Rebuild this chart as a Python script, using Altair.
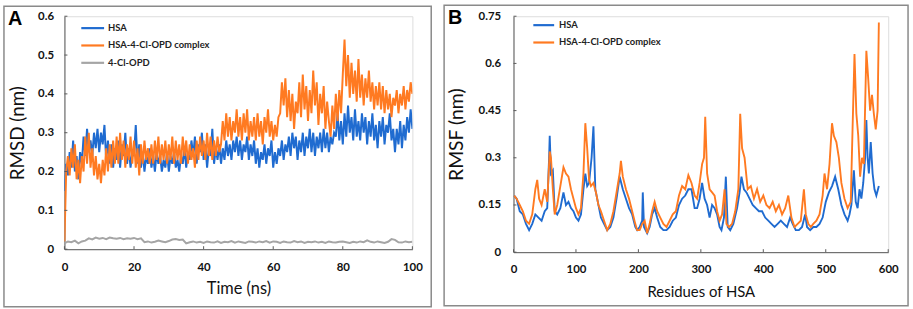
import altair as alt
import numpy as np
import pandas as pd

# ---------------- Panel A data (RMSD vs time) ----------------
hsa_rmsd = [
    0.15,0.22,0.19,0.25,0.21,0.28,0.2,0.24,0.18,0.25,
    0.22,0.29,0.24,0.31,0.25,0.28,0.24,0.3,0.26,0.31,
    0.25,0.3,0.27,0.32,0.23,0.28,0.22,0.27,0.21,0.26,
    0.23,0.28,0.21,0.27,0.24,0.3,0.22,0.26,0.21,0.25,
    0.24,0.32,0.22,0.27,0.21,0.25,0.2,0.24,0.22,0.26,
    0.21,0.24,0.2,0.25,0.22,0.24,0.2,0.23,0.21,0.25,
    0.2,0.24,0.22,0.25,0.21,0.23,0.2,0.24,0.22,0.26,
    0.21,0.25,0.23,0.28,0.24,0.29,0.22,0.27,0.25,0.3,
    0.23,0.27,0.21,0.26,0.24,0.31,0.22,0.26,0.23,0.27,
    0.22,0.26,0.23,0.28,0.24,0.27,0.23,0.28,0.25,0.29,
    0.24,0.28,0.23,0.27,0.25,0.29,0.23,0.27,0.24,0.28,
    0.22,0.26,0.21,0.25,0.23,0.27,0.22,0.26,0.24,0.28,
    0.21,0.25,0.22,0.26,0.24,0.28,0.23,0.27,0.25,0.29,
    0.24,0.3,0.26,0.29,0.23,0.28,0.25,0.3,0.24,0.29,
    0.26,0.31,0.25,0.3,0.24,0.29,0.26,0.3,0.25,0.31,
    0.26,0.3,0.25,0.29,0.27,0.3,0.29,0.35,0.28,0.33,
    0.27,0.35,0.29,0.37,0.3,0.34,0.28,0.36,0.29,0.33,
    0.28,0.35,0.3,0.34,0.27,0.33,0.29,0.35,0.28,0.32,
    0.26,0.33,0.29,0.34,0.27,0.32,0.3,0.35,0.28,0.31,
    0.25,0.31,0.27,0.33,0.26,0.32,0.28,0.34,0.3,0.36,
    0.31,
]
complex_rmsd = [
    0.02,0.2,0.24,0.19,0.26,0.21,0.27,0.18,0.23,0.17,
    0.24,0.2,0.29,0.22,0.3,0.21,0.26,0.19,0.24,0.18,
    0.22,0.17,0.23,0.19,0.26,0.2,0.27,0.21,0.28,0.22,
    0.29,0.22,0.3,0.23,0.28,0.21,0.27,0.23,0.29,0.22,
    0.28,0.21,0.26,0.19,0.27,0.22,0.28,0.23,0.26,0.22,
    0.27,0.22,0.28,0.23,0.29,0.22,0.27,0.23,0.28,0.22,
    0.27,0.23,0.29,0.22,0.28,0.23,0.27,0.22,0.29,0.24,
    0.28,0.22,0.27,0.23,0.26,0.21,0.28,0.23,0.29,0.24,
    0.28,0.23,0.3,0.24,0.29,0.23,0.28,0.24,0.29,0.25,
    0.27,0.33,0.28,0.35,0.29,0.34,0.28,0.33,0.3,0.36,
    0.29,0.34,0.28,0.35,0.3,0.36,0.28,0.33,0.29,0.34,
    0.28,0.35,0.29,0.33,0.27,0.34,0.3,0.36,0.29,0.33,
    0.28,0.32,0.29,0.34,0.35,0.43,0.37,0.44,0.34,0.41,
    0.33,0.4,0.31,0.38,0.35,0.43,0.34,0.45,0.36,0.42,
    0.33,0.41,0.35,0.46,0.37,0.43,0.32,0.4,0.35,0.42,
    0.31,0.38,0.33,0.29,0.37,0.31,0.4,0.33,0.41,0.35,
    0.45,0.54,0.42,0.5,0.39,0.48,0.4,0.46,0.38,0.49,
    0.39,0.45,0.37,0.44,0.39,0.46,0.38,0.43,0.36,0.42,
    0.37,0.43,0.36,0.42,0.35,0.41,0.36,0.4,0.34,0.39,
    0.37,0.41,0.35,0.4,0.37,0.42,0.36,0.41,0.38,0.43,
    0.4,
]
ligand_rmsd = [
    0.015,0.02,0.018,0.022,0.015,0.02,0.022,0.028,0.025,0.03,
    0.027,0.029,0.026,0.03,0.028,0.027,0.029,0.026,0.028,0.027,
    0.029,0.026,0.028,0.018,0.02,0.017,0.019,0.022,0.02,0.018,
    0.021,0.025,0.026,0.024,0.025,0.015,0.018,0.02,0.017,0.019,
    0.016,0.02,0.018,0.017,0.02,0.016,0.019,0.018,0.021,0.017,
    0.02,0.018,0.016,0.02,0.019,0.017,0.02,0.018,0.021,0.017,
    0.02,0.019,0.016,0.02,0.018,0.017,0.021,0.018,0.02,0.016,
    0.019,0.018,0.02,0.017,0.019,0.016,0.02,0.018,0.017,0.019,
    0.02,0.018,0.016,0.019,0.017,0.02,0.018,0.023,0.019,0.017,
    0.02,0.018,0.016,0.019,0.026,0.024,0.018,0.017,0.02,0.018,
    0.019,
]
series_a = ["HSA", "HSA-4-Cl-OPD complex", "4-Cl-OPD"]
colors_a = ["#1f6bd0", "#ff7a21", "#a5a5a5"]
xticks_a = [0, 20, 40, 60, 80, 100]
yticks_a = [0, 0.1, 0.2, 0.3, 0.4, 0.5, 0.6]

# ---------------- Panel B data (RMSF vs residue) ----------------
res_cplx = [1,5,10,15,20,25,30,35,38,41,45,50,54,58,60,63,66,70,75,80,84,88,92,96,100,
            104,108,112,115,118,121,124,128,132,136,140,145,150,155,160,165,170,172,175,
            180,185,190,195,198,202,206,210,214,218,222,226,230,235,240,245,250,255,260,
            265,270,275,280,285,290,294,298,302,305,307,310,314,318,322,326,330,334,338,
            341,345,350,355,360,363,366,370,375,380,385,390,395,400,405,410,415,420,425,
            430,435,440,445,450,455,460,465,468,472,476,480,485,490,495,498,502,506,510,
            513,517,521,525,530,535,540,543,546,549,552,555,558,561,565,568,571,574,577,
            580,583,585]
rmsf_cplx = [0.18,0.17,0.15,0.13,0.1,0.09,0.12,0.2,0.23,0.17,0.15,0.2,0.16,0.32,0.3,0.2,
             0.12,0.15,0.21,0.27,0.25,0.24,0.2,0.17,0.14,0.12,0.14,0.25,0.41,0.33,0.23,0.21,
             0.22,0.19,0.15,0.13,0.1,0.07,0.09,0.13,0.19,0.25,0.29,0.24,0.2,0.17,0.13,0.09,
             0.07,0.07,0.09,0.1,0.06,0.09,0.13,0.16,0.13,0.11,0.09,0.08,0.1,0.12,0.13,0.18,
             0.21,0.2,0.245,0.22,0.18,0.17,0.22,0.28,0.3,0.43,0.25,0.2,0.19,0.18,0.13,0.1,
             0.12,0.2,0.09,0.08,0.09,0.13,0.2,0.44,0.33,0.3,0.2,0.21,0.17,0.2,0.16,0.18,0.15,
             0.14,0.16,0.13,0.15,0.12,0.14,0.18,0.11,0.08,0.09,0.1,0.2,0.12,0.09,0.08,0.09,
             0.1,0.12,0.18,0.25,0.2,0.28,0.41,0.37,0.35,0.3,0.22,0.17,0.14,0.16,0.4,0.63,0.44,
             0.37,0.24,0.3,0.28,0.64,0.55,0.45,0.5,0.44,0.39,0.45,0.73]
res_hsa = [1,5,10,15,20,25,30,35,40,45,50,54,57,58,60,63,66,70,75,80,84,88,92,96,100,104,
           108,112,115,118,121,125,128,131,135,140,145,150,155,160,165,170,175,180,185,190,
           195,198,202,206,207,209,214,218,222,226,230,235,240,245,250,255,260,265,270,275,
           280,285,290,294,298,302,306,310,314,318,322,326,330,333,337,340,343,347,352,358,
           362,365,369,373,378,383,388,393,398,403,408,413,418,423,428,433,438,443,447,452,
           457,462,467,470,475,480,485,490,495,500,505,510,515,520,525,530,535,538,541,545,
           548,551,554,557,560,563,565,567,569,572,575,578,581,585]
rmsf_hsa = [0.18,0.17,0.13,0.12,0.09,0.07,0.09,0.12,0.11,0.1,0.13,0.14,0.3,0.37,0.25,0.26,
            0.13,0.12,0.14,0.19,0.15,0.16,0.14,0.13,0.11,0.1,0.12,0.2,0.25,0.21,0.22,0.3,0.4,
            0.2,0.16,0.11,0.09,0.07,0.08,0.11,0.17,0.24,0.2,0.17,0.14,0.12,0.08,0.07,0.08,0.1,
            0.19,0.08,0.06,0.08,0.12,0.14,0.11,0.08,0.07,0.07,0.08,0.1,0.11,0.15,0.17,0.18,0.2,
            0.2,0.14,0.14,0.17,0.22,0.17,0.15,0.11,0.15,0.14,0.12,0.08,0.07,0.11,0.24,0.08,
            0.07,0.09,0.14,0.19,0.24,0.2,0.19,0.17,0.15,0.14,0.13,0.13,0.11,0.1,0.09,0.08,0.09,
            0.1,0.09,0.08,0.11,0.09,0.07,0.07,0.08,0.12,0.08,0.07,0.08,0.08,0.09,0.11,0.16,0.19,
            0.21,0.24,0.2,0.15,0.12,0.1,0.12,0.15,0.26,0.16,0.14,0.2,0.17,0.22,0.3,0.42,0.3,0.25,
            0.35,0.25,0.2,0.18,0.21]
series_b = ["HSA", "HSA-4-Cl-OPD complex"]
colors_b = ["#1f6bd0", "#ff7a21"]
xticks_b = [0, 100, 200, 300, 400, 500, 600]
yticks_b = [0, 0.15, 0.3, 0.45, 0.6, 0.75]

# ---------------- tables ----------------
def trace(vals, name):
    return pd.DataFrame({"x": np.linspace(0, 100, len(vals)), "y": vals, "s": name})

df_a = pd.concat([trace(hsa_rmsd, series_a[0]), trace(complex_rmsd, series_a[1]),
                  trace(ligand_rmsd, series_a[2])], ignore_index=True)
df_b = pd.concat([pd.DataFrame({"x": res_hsa, "y": rmsf_hsa, "s": series_b[0]}),
                  pd.DataFrame({"x": res_cplx, "y": rmsf_cplx, "s": series_b[1]})],
                 ignore_index=True)

FONT = "Lato"
AXC = "#5a5a5a"
BOXC = "#8a8a8a"


def legend_layers(series, colors, x0, x1, tx, y0, pitch):
    out = []
    for i, (name, c) in enumerate(zip(series, colors)):
        yy = y0 + i * pitch
        out.append(alt.Chart(pd.DataFrame({"t": [name]})).mark_rule(
            color=c, strokeWidth=2.2).encode(
            x=alt.value(x0), x2=alt.value(x1), y=alt.value(yy)))
        out.append(alt.Chart(pd.DataFrame({"t": [name]})).mark_text(
            font=FONT, fontWeight="bold", fontSize=9.5, align="left",
            baseline="middle", color="#222").encode(
            text="t:N", x=alt.value(tx), y=alt.value(yy)))
    return out


def panel(df, series, colors, xdom, ydom, xt, yt, xtitle, ytitle, w, h, letter,
          box, leg, ytfmt, sw, xlabpad, ylabpad, titpad, ytitoff, xts, yts):
    xs = alt.Scale(domain=xdom, nice=False, zero=False)
    ys = alt.Scale(domain=ydom, nice=False)
    xax = alt.Axis(values=xt, tickCount=len(xt), title=xtitle, grid=False, ticks=False,
                   labelPadding=xlabpad, titlePadding=titpad,
                   labelFont=FONT, labelFontWeight="bold", labelFontSize=11.5,
                   labelColor="#111", titleFont=FONT, titleFontWeight="normal",
                   titleFontSize=xts, titleColor="#111", domainColor=AXC,
                   labelFlush=False, labelOverlap=False)
    yax = alt.Axis(values=yt, tickCount=len(yt), title=ytitle, grid=False, ticks=False,
                   format=ytfmt, labelPadding=ylabpad, titlePadding=ytitoff,
                   labelFont=FONT, labelFontWeight="bold", labelFontSize=11.5,
                   labelColor="#111", titleFont=FONT, titleFontWeight="normal",
                   titleFontSize=yts, titleColor="#111", domainColor=AXC,
                   labelOverlap=False, labelFlush=False)
    lines = alt.Chart(df).mark_line(strokeWidth=sw, clip=True).encode(
        x=alt.X("x:Q", scale=xs, axis=xax),
        y=alt.Y("y:Q", scale=ys, axis=yax),
        color=alt.Color("s:N", scale=alt.Scale(domain=series, range=colors), legend=None),
        detail="s:N",
    )
    xtk = alt.Chart(pd.DataFrame({"v": xt})).mark_rule(color=AXC, strokeWidth=1).encode(
        x=alt.X("v:Q", scale=xs, axis=xax), y=alt.value(h), y2=alt.value(h - 3))
    ytk = alt.Chart(pd.DataFrame({"v": yt})).mark_rule(color=AXC, strokeWidth=1).encode(
        y=alt.Y("v:Q", scale=ys, axis=yax), x=alt.value(0), x2=alt.value(3))
    frame = alt.Chart(pd.DataFrame({"a": [0]})).mark_rect(
        fillOpacity=0, stroke=BOXC, strokeWidth=1.5, clip=False).encode(
        x=alt.value(box[0]), x2=alt.value(box[1]), y=alt.value(box[2]), y2=alt.value(box[3]))
    lab = alt.Chart(pd.DataFrame({"t": [letter]})).mark_text(
        font="Liberation Sans", fontWeight="bold", fontSize=20, align="left",
        baseline="top", color="#000").encode(
        text="t:N", x=alt.value(box[0] + 4), y=alt.value(box[2] + 3))
    legs = legend_layers(series, colors, *leg)
    return alt.layer(lines, xtk, ytk, frame, lab, *legs).properties(width=w, height=h)


pa = panel(df_a, series_a, colors_a, [0, 100], [0, 0.6], xticks_a, yticks_a,
           "Time (ns)", "RMSD (nm)", 351, 235, "A", (-61, 370, -10, 293),
           (17, 40, 44, 12, 17.5), ".1~f", 2.0, 12, 11, 8, 10, 16.5, 19)
pb = panel(df_b, series_b, colors_b, [0, 600], [0, 0.75], xticks_b, yticks_b,
           "Residues of HSA", "RMSF (nm)", 378, 238, "B", (-70, 398, -11, 292),
           (20, 41, 46, 9, 17.5), ".2~f", 1.9, 12, 13, 9, 12, 15, 19.5)

chart = alt.hconcat(pa, pb, spacing=9).properties(
    padding={"left": 2, "top": 2, "right": 3, "bottom": 4}
).configure_view(stroke=AXC, strokeWidth=1).configure(background="white")

chart.save("out.html", embed_options={"renderer": "svg", "actions": False})
